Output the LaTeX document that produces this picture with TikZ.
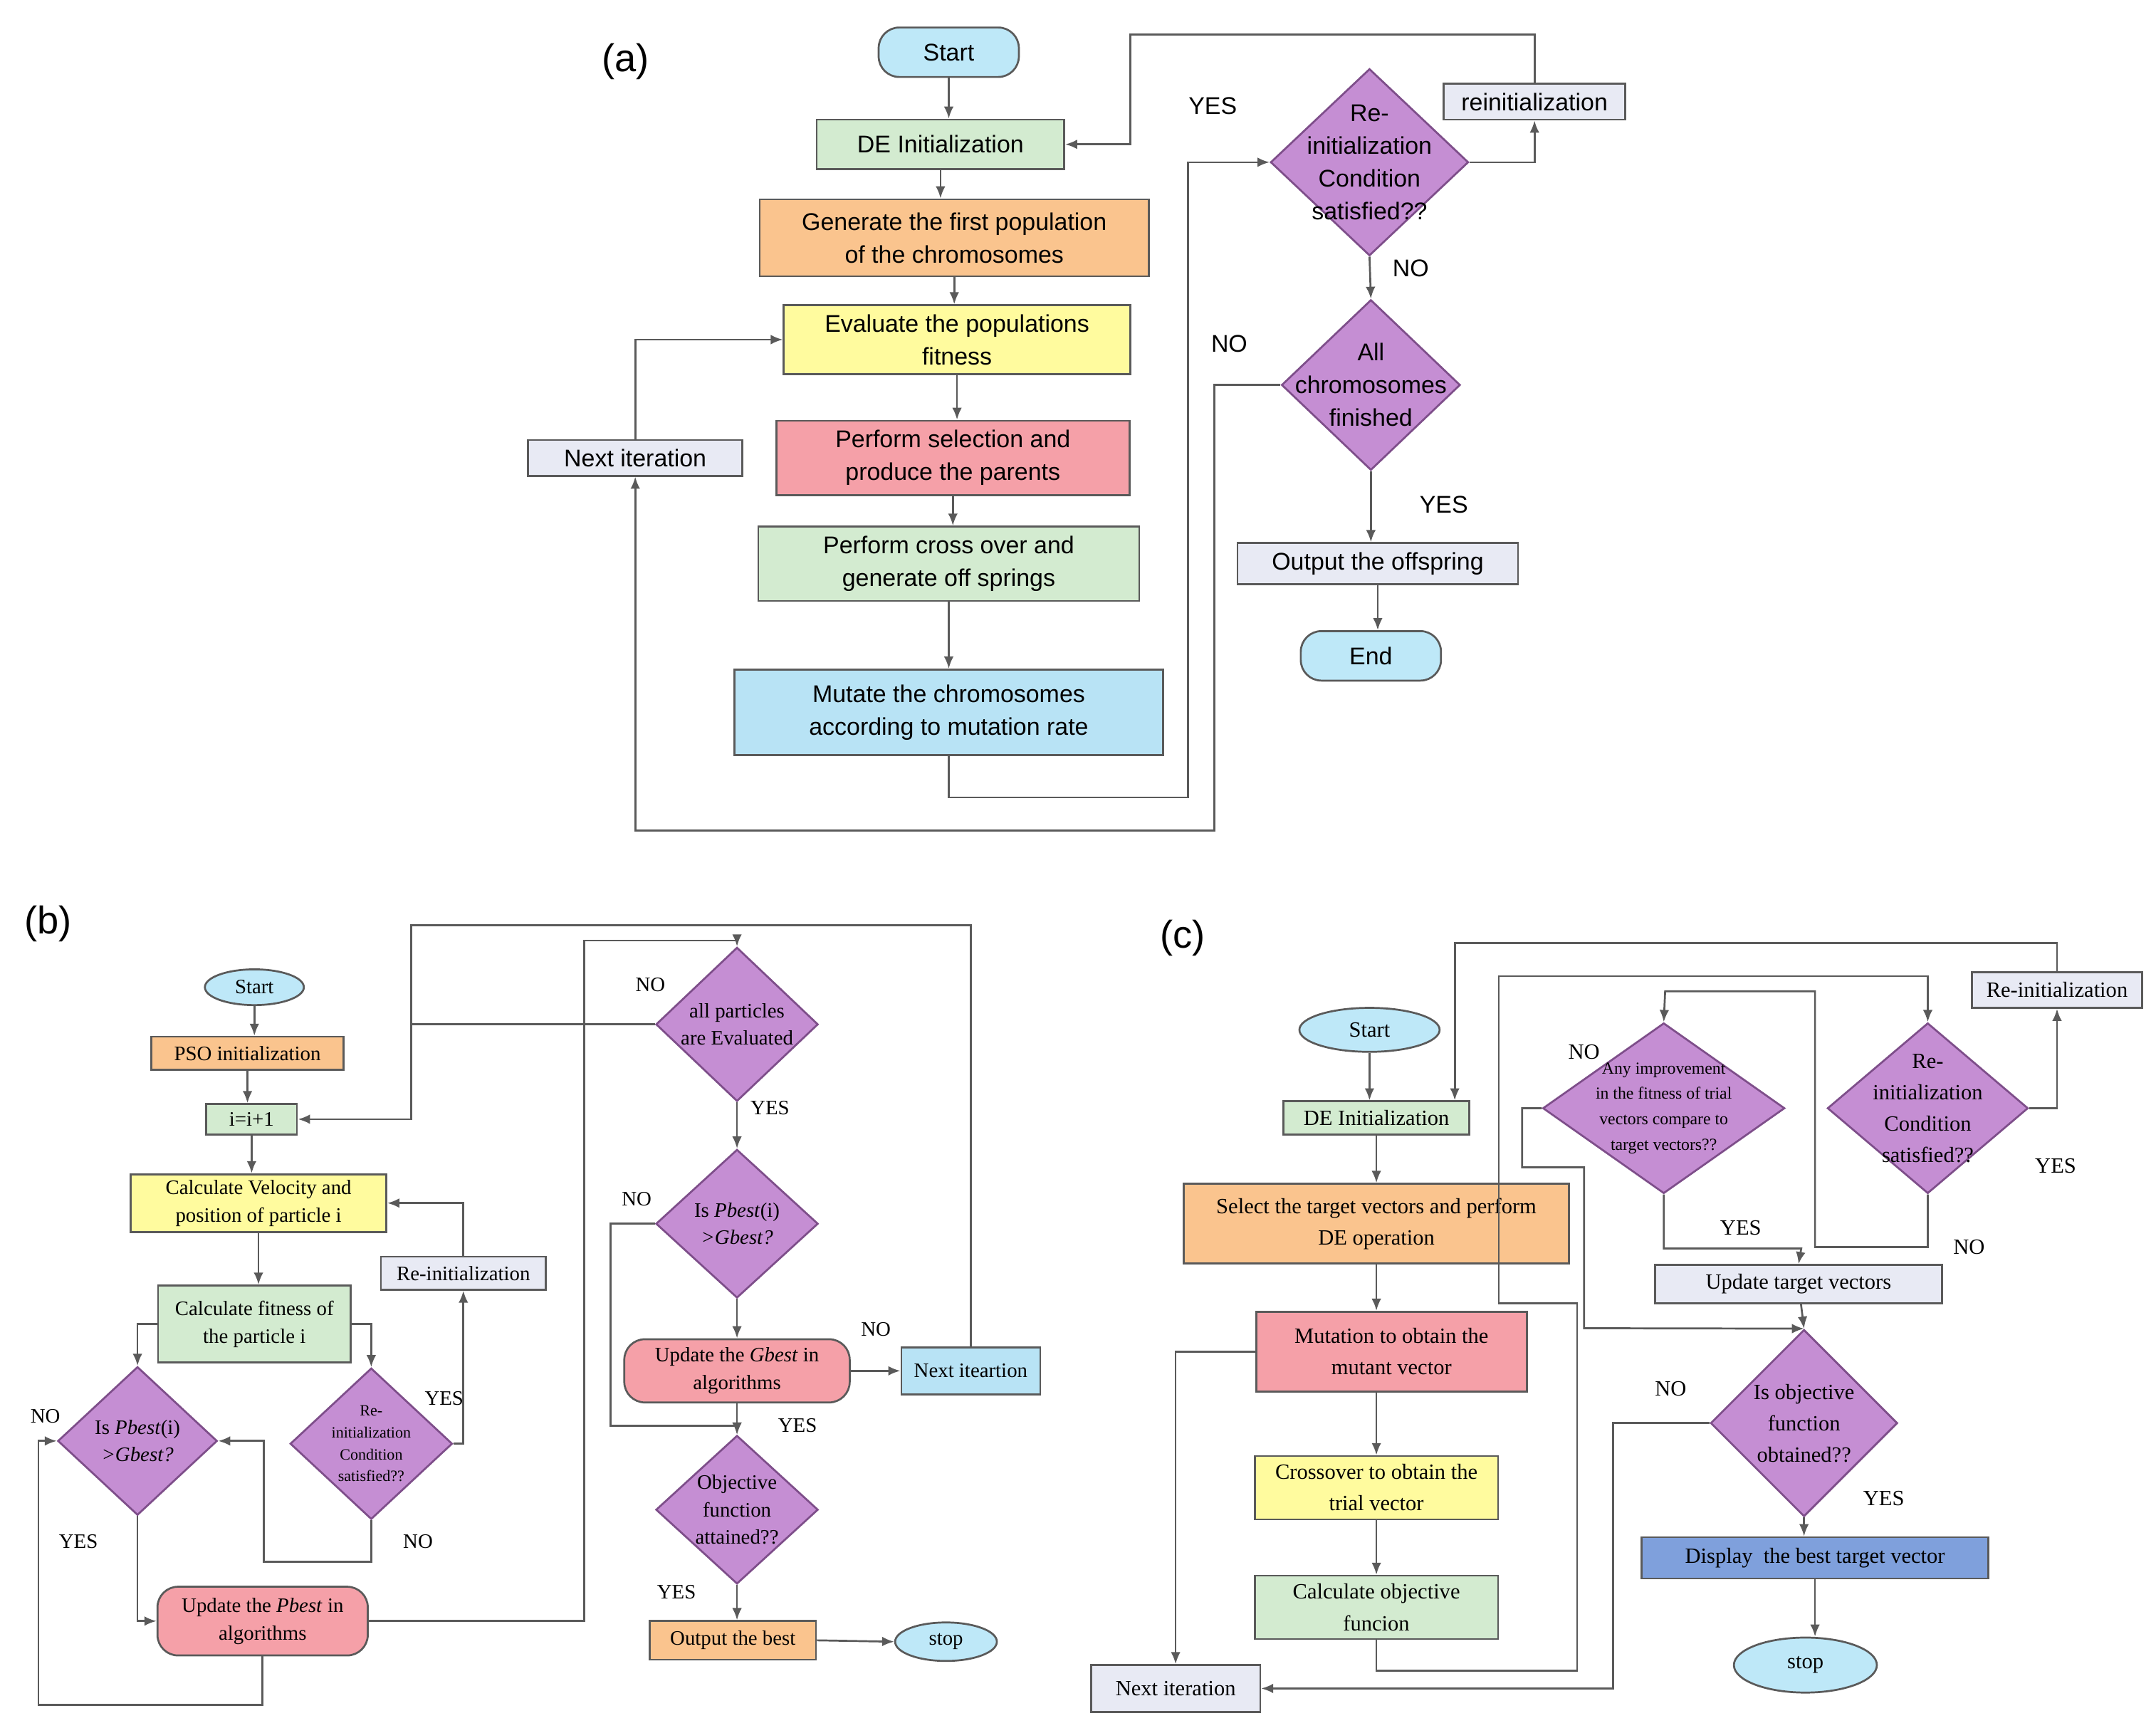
\documentclass[tikz,border=0pt]{standalone}
\usepackage{fontspec}
\setmainfont{Liberation Serif}
\newfontfamily\sansA{Liberation Sans}
\usetikzlibrary{shapes.geometric, arrows.meta}

\definecolor{cyanF}{HTML}{BEE8F8}
\definecolor{greenF}{HTML}{D3EBD0}
\definecolor{orangeF}{HTML}{FAC48E}
\definecolor{yellowF}{HTML}{FFFB9E}
\definecolor{redF}{HTML}{F5A0A8}
\definecolor{blueF}{HTML}{B8E3F5}
\definecolor{lavF}{HTML}{E8EAF4}
\definecolor{purpF}{HTML}{C58ED3}
\definecolor{purpD}{HTML}{7E4E8A}
\definecolor{dispF}{HTML}{7FA0DC}
\definecolor{lineC}{HTML}{5A5A5A}

\tikzset{
	box/.style={draw=lineC, line width=0.8pt, inner sep=0pt, align=center},
	term/.style={box, rounded corners=0.3cm},
	oval/.style={box, ellipse},
	dia/.style={draw=purpD, fill=purpF, line width=0.8pt, diamond, inner sep=0pt},
	arr/.style={draw=lineC, line width=0.8pt, -{Latex[length=5pt, width=4pt]}},
	line/.style={draw=lineC, line width=0.8pt},
	fa/.style={font=\sansA\fontsize{10}{13.6}\selectfont},
	fb/.style={font=\fontsize{8.5}{11.4}\selectfont},
	fc/.style={font=\fontsize{9}{13}\selectfont},
}

\begin{document}
\begin{tikzpicture}[x=0.02cm, y=-0.02cm, >=Latex]
	\useasboundingbox (0,0) rectangle (1568,1260);

	% (a)
	\node[font=\sansA\fontsize{16}{16}\selectfont] (labA) at (455,45) {(a)};
	\node[term, fa, fill=cyanF, minimum width=2.04cm, minimum height=0.72cm] (startA) at (690,38) {Start};
	\node[box, fa, fill=greenF, minimum width=3.6cm, minimum height=0.72cm] (deA) at (684,105) {DE Initialization};
	\node[box, fa, fill=orangeF, minimum width=5.66cm, minimum height=1.12cm] (genA) at (694,173) {Generate the first population\\of the chromosomes};
	\node[box, fa, fill=yellowF, minimum width=5.04cm, minimum height=1.0cm] (evalA) at (696,247) {Evaluate the populations\\fitness};
	\node[box, fa, fill=redF, minimum width=5.14cm, minimum height=1.08cm] (selA) at (693,333) {Perform selection and\\produce the parents};
	\node[box, fa, fill=greenF, minimum width=5.54cm, minimum height=1.08cm] (crossA) at (690,410) {Perform cross over and\\generate off springs};
	\node[box, fa, fill=blueF, minimum width=6.24cm, minimum height=1.24cm] (mutA) at (690,518) {Mutate the chromosomes\\according to mutation rate};
	\node[box, fa, fill=lavF, minimum width=3.12cm, minimum height=0.52cm] (nextA) at (462,333) {Next iteration};
	\node[dia, minimum width=2.88cm, minimum height=2.72cm] (reA) at (996,118) {};
	\node[fa, align=center] at (reA) {Re-\\initialization\\Condition\\satisfied??};
	\node[box, fa, fill=lavF, minimum width=2.64cm, minimum height=0.52cm] (riA) at (1116,74) {reinitialization};
	\node[dia, minimum width=2.6cm, minimum height=2.48cm] (allA) at (997,280) {};
	\node[fa, align=center] at (allA) {All\\chromosomes\\finished};
	\node[box, fa, fill=lavF, minimum width=4.08cm, minimum height=0.6cm] (outA) at (1002,410) {Output the offspring};
	\node[term, fa, fill=cyanF, minimum width=2.04cm, minimum height=0.72cm] (endA) at (997,477) {End};

	\draw[arr] (startA) -- (startA |- deA.north);
	\draw[arr] (deA) -- (deA |- genA.north);
	\draw[arr] (genA) -- (genA |- evalA.north);
	\draw[arr] (evalA) -- (evalA |- selA.north);
	\draw[arr] (selA) -- (selA |- crossA.north);
	\draw[arr] (crossA) -- (crossA |- mutA.north);
	\draw[arr] (mutA.south) |- (864,580) |- (reA.west);
	\draw[arr] (reA.east) -| (riA.south);
	\draw[arr] (riA.north) |- (822,25) |- (deA.east);
	\draw[arr] (reA.south) -- (allA.north);
	\draw[arr] (allA.west) -| (883,604) -| (nextA.south);
	\draw[arr] (nextA.north) |- (evalA.west);
	\draw[arr] (allA.south) -- (allA |- outA.north);
	\draw[arr] (outA) -- (outA |- endA.north);

	\node[fa] (yesA1) at (882,77) {YES};
	\node[fa] (noA1) at (1026,195) {NO};
	\node[fa] (noA2) at (894,250) {NO};
	\node[fa] (yesA2) at (1050,367) {YES};

	% (b)
	\node[font=\sansA\fontsize{16}{16}\selectfont] (labB) at (35,672) {(b)};
	\node[oval, fb, fill=cyanF, minimum width=1.44cm, minimum height=0.52cm] (startB) at (185,718) {Start};
	\node[box, fb, fill=orangeF, minimum width=2.8cm, minimum height=0.48cm] (psoB) at (180,766) {PSO initialization};
	\node[box, fb, fill=greenF, minimum width=1.32cm, minimum height=0.44cm] (incB) at (183,814) {i=i+1};
	\node[box, fb, fill=yellowF, minimum width=3.72cm, minimum height=0.84cm] (velB) at (188,875) {Calculate Velocity and\\position of particle i};
	\node[box, fb, fill=greenF, minimum width=2.8cm, minimum height=1.12cm] (fitB) at (185,963) {Calculate fitness of\\the particle i};
	\node[box, fb, fill=lavF, minimum width=2.4cm, minimum height=0.48cm] (riB) at (337,926) {Re-initialization};
	\node[dia, minimum width=2.36cm, minimum height=2.2cm] (reB) at (270,1050) {};
	\node[align=center, font=\fontsize{6.5}{9}\selectfont] at (reB) {Re-\\initialization\\Condition\\satisfied??};
	\node[dia, minimum width=2.32cm, minimum height=2.16cm] (pbB) at (100,1048) {};
	\node[fb, align=center] at (pbB) {Is \textit{Pbest}(i)\\\textit{>Gbest?}};
	\node[term, fb, fill=redF, minimum width=3.06cm, minimum height=1.0cm] (updpB) at (191,1179) {Update the \textit{Pbest} in\\algorithms};
	\node[dia, minimum width=2.36cm, minimum height=2.24cm] (allB) at (536,745) {};
	\node[fb, align=center] at (allB) {all particles\\are Evaluated};
	\node[dia, minimum width=2.36cm, minimum height=2.16cm] (gbB) at (536,890) {};
	\node[fb, align=center] at (gbB) {Is \textit{Pbest}(i)\\\textit{>Gbest?}};
	\node[term, fb, fill=redF, minimum width=3.28cm, minimum height=0.92cm] (updgB) at (536,997) {Update the \textit{Gbest} in\\algorithms};
	\node[box, fb, fill=blueF, minimum width=2.02cm, minimum height=0.68cm] (nextB) at (706,997) {Next iteartion};
	\node[dia, minimum width=2.36cm, minimum height=2.16cm] (objB) at (536,1098) {};
	\node[fb, align=center] at (objB) {Objective\\function\\attained??};
	\node[box, fb, fill=orangeF, minimum width=2.42cm, minimum height=0.56cm] (outB) at (533,1193) {Output the best};
	\node[oval, fb, fill=cyanF, minimum width=1.48cm, minimum height=0.56cm] (stopB) at (688,1194) {stop};
	\coordinate (jB) at (299,745);

	\draw[arr] (startB) -- (startB |- psoB.north);
	\draw[arr] (psoB) -- (psoB |- incB.north);
	\draw[arr] (incB) -- (incB |- velB.north);
	\draw[arr] (velB) -- (velB |- fitB.north);
	\draw[arr] (fitB.west) -| (pbB.north);
	\draw[arr] (fitB.east) -| (reB.north);
	\draw[arr] (reB.east) -| (riB.south);
	\draw[arr] (riB.north) |- (velB.east);
	\draw[arr] (reB.south) |- (192,1136) |- (pbB.east);
	\draw[arr] (pbB.south) |- (updpB.west);
	\draw[arr] (updpB.south) |- (28,1240) |- (pbB.west);
	\draw[arr] (updpB.east) -| (425,684) -| (allB.north);
	\draw[arr] (nextB.north) |- (299,673) |- (incB.east);
	\draw[line] (allB.west) -- (jB);
	\draw[arr] (allB) -- (gbB);
	\draw[arr] (gbB.west) -| (444,1037) -| (objB.north);
	\draw[arr] (gbB) -- (updgB);
	\draw[arr] (updgB) -- (objB);
	\draw[arr] (updgB.east) -- (nextB.west);
	\draw[arr] (objB) -- (objB |- outB.north);
	\draw[arr] (outB.east) -- (stopB.west);

	\node[fb] (noB1) at (473,716) {NO};
	\node[fb] (yesB1) at (560,806) {YES};
	\node[fb] (noB2) at (463,872) {NO};
	\node[fb] (noB3) at (637,967) {NO};
	\node[fb] (yesB2) at (580,1037) {YES};
	\node[fb] (yesB3) at (323,1017) {YES};
	\node[fb] (noB4) at (304,1121) {NO};
	\node[fb] (noB5) at (33,1030) {NO};
	\node[fb] (yesB4) at (57,1121) {YES};
	\node[fb] (yesB5) at (492,1158) {YES};

	% (c)
	\node[font=\sansA\fontsize{16}{16}\selectfont] (labC) at (860,682) {(c)};
	\node[oval, fc, fill=cyanF, minimum width=2.04cm, minimum height=0.64cm] (startC) at (996,749) {Start};
	\node[box, fc, fill=greenF, minimum width=2.7cm, minimum height=0.48cm] (deC) at (1001,813) {DE Initialization};
	\node[box, fc, fill=orangeF, minimum width=5.6cm, minimum height=1.16cm] (selC) at (1001,890) {Select the target vectors and perform\\DE operation};
	\node[box, fc, fill=redF, minimum width=3.94cm, minimum height=1.16cm] (mutC) at (1012,983) {Mutation to obtain the\\mutant vector};
	\node[box, fc, fill=yellowF, minimum width=3.54cm, minimum height=0.92cm] (crC) at (1001,1082) {Crossover to obtain the\\trial vector};
	\node[box, fc, fill=greenF, minimum width=3.54cm, minimum height=0.92cm] (calC) at (1001,1169) {Calculate objective\\funcion};
	\node[box, fc, fill=lavF, minimum width=2.46cm, minimum height=0.68cm] (nextC) at (855,1228) {Next iteration};
	\node[dia, minimum width=3.52cm, minimum height=2.48cm] (anyC) at (1210,806) {};
	\node[align=center, font=\fontsize{7}{10.5}\selectfont] at (anyC) {Any improvement\\in the fitness of trial\\vectors compare to\\target vectors??};
	\node[dia, minimum width=2.92cm, minimum height=2.48cm] (reC) at (1402,806) {};
	\node[fc, align=center] at (reC) {Re-\\initialization\\Condition\\satisfied??};
	\node[box, fc, fill=lavF, minimum width=2.48cm, minimum height=0.52cm] (riC) at (1496,720) {Re-initialization};
	\node[box, fc, fill=lavF, minimum width=4.18cm, minimum height=0.56cm] (updC) at (1308,934) {Update target vectors};
	\node[dia, minimum width=2.72cm, minimum height=2.72cm] (objC) at (1312,1035) {};
	\node[fc, align=center] at (objC) {Is objective\\function\\obtained??};
	\node[box, fc, fill=dispF, minimum width=5.04cm, minimum height=0.6cm] (dispC) at (1320,1133) {Display\ \ the best target vector};
	\node[oval, fc, fill=cyanF, minimum width=2.08cm, minimum height=0.8cm] (stopC) at (1313,1211) {stop};

	\draw[arr] (startC) -- (startC |- deC.north);
	\draw[arr] (deC) -- (deC |- selC.north);
	\draw[arr] (selC.south) -- (selC.south |- mutC.north);
	\draw[arr] (selC.south |- mutC.south) -- (selC.south |- crC.north);
	\draw[arr] (crC) -- (crC |- calC.north);
	\draw[arr] (riC.north) |- (1058,686) -- (1058,686 |- deC.north);
	\draw[arr] (reC.east) -| (riC.south);
	\draw[arr] (calC.south) |- (1147,1215) |- (1090,948) |- (1402,710) -- (reC.north);
	\draw[arr] (reC.south) |- (1320,907) |- (1211,721) -- (anyC.north);
	\draw[arr] (anyC.south) |- (1310,908) -- (updC.north);
	\draw[arr] (anyC.west) -| (1107,849) -| (1152,966) -- (objC.north);
	\draw[arr] (updC) -- (objC.north);
	\draw[arr] (objC.west) -| (1173,1228) -- (nextC.east);
	\draw[arr] (mutC.west) -| (nextC.north);
	\draw[arr] (objC) -- (objC |- dispC.north);
	\draw[arr] (dispC) -- (dispC |- stopC.north);

	\node[fc] (noC1) at (1152,765) {NO};
	\node[fc] (yesC1) at (1266,893) {YES};
	\node[fc] (noC2) at (1432,907) {NO};
	\node[fc] (yesC2) at (1495,848) {YES};
	\node[fc] (noC3) at (1215,1010) {NO};
	\node[fc] (yesC3) at (1370,1090) {YES};
\end{tikzpicture}
\end{document}
